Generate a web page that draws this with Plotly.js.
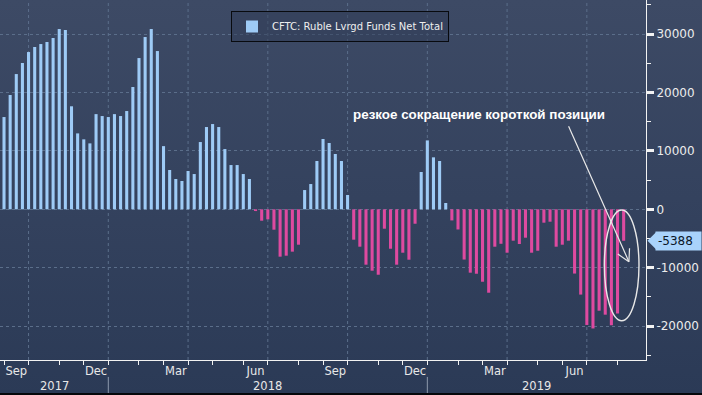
<!DOCTYPE html>
<html><head><meta charset="utf-8">
<script src="https://cdn.plot.ly/plotly-3.0.1.min.js"></script>
<style>
html,body{margin:0;padding:0;background:#2b3a56;overflow:hidden;}
#wrap{position:relative;width:702px;height:395px;}
#chart{width:702px;height:395px;background:linear-gradient(to bottom,#3d4a65 0%,#34425e 50%,#2b3a56 100%);}
#edge{position:absolute;left:0;bottom:0;width:702px;height:2px;background:#05070b;pointer-events:none;}
</style></head>
<body><div id="wrap"><div id="chart"></div><div id="edge"></div></div>
<script>
// ---- data ----
const seriesName = 'CFTC: Ruble Lvrgd Funds Net Total';
const firstWeek = '2017-09-05';           // first weekly report (Tuesday)
const netTotal = [
  15800, 19570, 23160, 25050, 26930, 27790, 28300, 28650, 29330, 30870,
  30700, 17640, 13000, 11980, 11290, 16300, 15970, 15800, 16300, 15970,
  16830, 20940, 25900, 29500, 30870, 27100, 10820, 6730, 5190, 4850,
  6560, 6040, 11520, 14090, 14600, 14090, 10320, 7580, 7580, 6040,
  5190, -300, -1950, -1710, -3490, -8110, -7940, -7250, -6060, 3300,
  4330, 8270, 12040, 11360, 9470, 8270, 2450, -5200, -6400, -9480,
  -10510, -11200, -3320, -6750, -9480, -7430, -8630, -2470, 6390, 11800,
  8900, 8270, 1080, -1900, -3450, -8600, -10850, -11030, -12400, -14280,
  -6400, -5900, -7430, -5370, -5940, -4860, -7430, -7090, -2290, -2120,
  -6400, -6060, -5370, -11000, -14600, -19800, -20400, -17360, -18040, -19850,
  -17840, -5388
];
const monthAbbr = ['Jan','Feb','Mar','Apr','May','Jun','Jul','Aug','Sep','Oct','Nov','Dec'];
const labeledMonths = [2, 5, 8, 11];   // Mar, Jun, Sep, Dec
const gridMonths = [0, 3, 6, 9];       // quarter starts
const yTickVals = [-20000, -10000, 0, 10000, 20000, 30000];
const yMinorVals = [-25000, -15000, -5000, 5000, 15000, 25000, 35000];
const noteText = 'резкое сокращение короткой позиции';

// ---- styling ----
const posColor = '#9ecbf6';
const negColor = '#de4aa0';
const gridColor = '#5b6e8a';
const axisColor = '#f2f2f2';
const xRange = ['2017-08-31 10:00:00', '2019-09-07 12:00:00'];
const yRange = [-25800, 35840];

// ---- derived ----
const DAY = 86400000;
const toMs = s => Date.parse(s.replace(' ', 'T') + (s.length > 10 ? 'Z' : 'T00:00:00Z'));
const fmt = ms => new Date(ms).toISOString().replace('T', ' ').slice(0, 19);
const startMs = toMs(firstWeek);
const weekMs = netTotal.map((v, i) => startMs + i * 7 * DAY);
const weeks = weekMs.map(fmt);
const colors = netTotal.map(v => v >= 0 ? posColor : negColor);

// monthly tick = first weekly report of each month
const monthTicks = [];
weekMs.forEach((ms, i) => {
  const d = new Date(ms);
  if (i === 0 || d.getUTCMonth() !== new Date(weekMs[i - 1]).getUTCMonth()) monthTicks.push(ms);
});
const labelPos = [], labelText = [];
for (let k = 0; k < monthTicks.length - 1; k++) {
  const m = new Date(monthTicks[k]).getUTCMonth();
  if (labeledMonths.includes(m)) {
    labelPos.push(fmt((monthTicks[k] + monthTicks[k + 1]) / 2));
    labelText.push(monthAbbr[m]);
  }
}
const gridDates = monthTicks.filter(ms => gridMonths.includes(new Date(ms).getUTCMonth()));
const yearStarts = monthTicks.filter(ms => new Date(ms).getUTCMonth() === 0);
const bounds = [toMs(xRange[0])].concat(yearStarts, [toMs(xRange[1])]);
const yearAnn = [];
for (let k = 0; k < bounds.length - 1; k++) {
  const mid = (bounds[k] + bounds[k + 1]) / 2;
  yearAnn.push({
    xref: 'x', yref: 'paper', x: fmt(mid), y: -0.071, yanchor: 'middle', xanchor: 'center',
    text: String(new Date(mid).getUTCFullYear()), showarrow: false,
    font: {family: 'DejaVu Sans', size: 11.5, color: '#e8e8e8'}
  });
}

const shapes = [];
gridDates.forEach(ms => shapes.push({
  type: 'line', xref: 'x', yref: 'paper', x0: fmt(ms), x1: fmt(ms), y0: 0, y1: 1,
  layer: 'below', line: {color: gridColor, width: 1, dash: 'dot'}
}));
yearStarts.forEach(ms => shapes.push({
  type: 'line', xref: 'x', yref: 'paper', x0: fmt(ms), x1: fmt(ms), y0: -0.047, y1: -0.1,
  line: {color: '#8d99ad', width: 1}
}));
// highlight ellipse around the latest weeks
shapes.push({
  type: 'circle', xref: 'x', yref: 'y', x0: '2019-07-22', x1: '2019-08-30 12:00',
  y0: -19070, y1: -120, line: {color: '#e8e8e8', width: 1.4}
});
// last-value callout pointer
const lastVal = netTotal[netTotal.length - 1];
const halfH = 8.5 * (yRange[1] - yRange[0]) / 360;
shapes.push({
  type: 'path', xref: 'paper', yref: 'y',
  path: `M ${1 + 1.5/646},${lastVal} L ${1 + 10/646},${lastVal + halfH} L ${1 + 10/646},${lastVal - halfH} Z`,
  fillcolor: '#a9d3fb', line: {width: 0}
});

const tipX = '2019-08-19', tipY = -8970;
const arrowStyle = {xref: 'x', yref: 'y', x: tipX, y: tipY, text: '', showarrow: true,
  arrowhead: 0, arrowwidth: 1.2, arrowcolor: '#e8e8e8', standoff: 0};

const annotations = yearAnn.concat([
  {xref: 'paper', yref: 'paper', x: 479/646, y: 1 - 114/360, xanchor: 'center', yanchor: 'middle',
   text: '<b>' + noteText + '</b>',
   showarrow: false, font: {family: 'Liberation Sans', size: 13.4, color: '#ffffff'}},
  Object.assign({}, arrowStyle, {ax: -61, ay: -137}),
  Object.assign({}, arrowStyle, {ax: -12.6, ay: -8.7}),
  Object.assign({}, arrowStyle, {ax: 0.7, ay: -15}),
  {xref: 'paper', yref: 'y', x: 1, y: lastVal, xanchor: 'left', yanchor: 'middle', xshift: 9,
   text: String(lastVal), showarrow: false, bgcolor: '#a9d3fb', borderpad: 2, width: 41, align: 'left',
   font: {family: 'DejaVu Sans', size: 12, color: '#0b1626'}}
]);

const trace = {
  type: 'bar', x: weeks, y: netTotal, name: seriesName, showlegend: true,
  marker: {color: colors, line: {width: 0}}, hoverinfo: 'x+y'
};

const layout = {
  width: 702, height: 395,
  margin: {l: 0, r: 56, t: 0, b: 35, pad: 0},
  paper_bgcolor: 'rgba(0,0,0,0)', plot_bgcolor: 'rgba(0,0,0,0)',
  bargap: 0.5,
  showlegend: true,
  legend: {x: 231/646, xanchor: 'left', y: 1 - 11/360, yanchor: 'top',
    bordercolor: '#080a0e', borderwidth: 1, bgcolor: 'rgba(48,60,86,0.5)',
    font: {family: 'DejaVu Sans', size: 10, color: '#eeeeee'}},
  xaxis: {
    type: 'date', range: xRange, fixedrange: true,
    tickmode: 'array', tickvals: labelPos, ticktext: labelText, ticks: '',
    showgrid: false, zeroline: false,
    showline: true, linecolor: axisColor, linewidth: 1,
    tickfont: {family: 'DejaVu Sans', size: 11.5, color: '#e8e8e8'},
    minor: {tickmode: 'array', tickvals: monthTicks.map(fmt), ticks: 'outside', ticklen: 4,
            tickwidth: 1, tickcolor: axisColor, showgrid: false}
  },
  yaxis: {
    side: 'right', range: yRange, fixedrange: true,
    tickmode: 'array', tickvals: yTickVals, ticktext: yTickVals.map(v => String(v)),
    showgrid: true, gridcolor: gridColor, griddash: 'dot', gridwidth: 1,
    zeroline: false, showline: true, linecolor: axisColor, linewidth: 1,
    ticks: 'outside', ticklen: 7, tickwidth: 3, tickcolor: axisColor,
    tickfont: {family: 'DejaVu Sans', size: 12, color: '#ececec'},
    minor: {tickmode: 'array', tickvals: yMinorVals, ticks: 'outside', ticklen: 4,
            tickwidth: 1, tickcolor: axisColor, showgrid: false}
  },
  shapes: shapes,
  annotations: annotations
};

Plotly.newPlot('chart', [trace], layout, {displayModeBar: false, staticPlot: true});
</script>
</body></html>
